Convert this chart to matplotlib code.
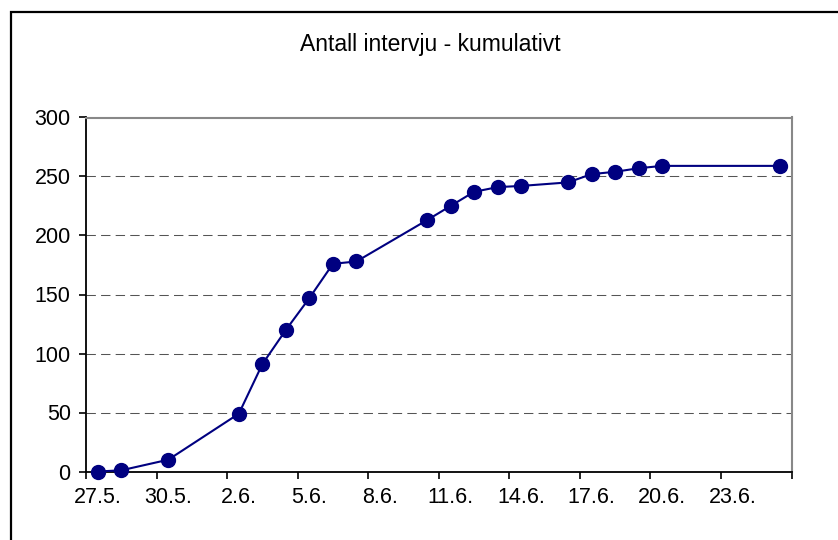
import matplotlib.pyplot as plt
from matplotlib.patches import Rectangle

# days counted from 27.5.
day_index = [0, 1, 3, 6, 7, 8, 9, 10, 11, 14, 15, 16, 17, 18, 20, 21, 22, 23, 24, 29]
cumulative = [0, 1, 10, 49, 91, 120, 147, 176, 178, 213, 225, 237, 241, 242, 245,
              252, 254, 257, 259, 259]
tick_labels = ["27.5.", "30.5.", "2.6.", "5.6.", "8.6.", "11.6.", "14.6.",
               "17.6.", "20.6.", "23.6."]
y_ticks = [0, 50, 100, 150, 200, 250, 300]

plt.rcParams['font.family'] = ['Liberation Sans', 'DejaVu Sans']

fig = plt.figure(figsize=(8.38, 5.40), dpi=100)
ax = fig.add_axes([86 / 838, 1 - 471.5 / 540, 705.5 / 838, 354 / 540])

# outer chart border (runs off the right and bottom edges)
fig.patches.append(Rectangle((10.5 / 838, -0.05), 1.0, 1 - 11.5 / 540 + 0.05,
                             transform=fig.transFigure, fill=False,
                             edgecolor='black', linewidth=1.6, clip_on=False))

x = [d + 0.5 for d in day_index]
ax.plot(x, cumulative, '-o', color='#000080', linewidth=1.5,
        markersize=10, zorder=3, clip_on=False)

ax.set_xlim(0, 30)
ax.set_ylim(0, 300)

ax.set_xticks(range(0, 31, 3))
ax.set_xticklabels([])
ax.set_xticks([i * 3 + 0.5 for i in range(len(tick_labels))], minor=True)
ax.set_xticklabels(tick_labels, minor=True)
ax.tick_params(axis='x', which='major', direction='out', length=5, width=1.2)
ax.tick_params(axis='x', which='minor', length=0, pad=11, labelsize=15.5)

ax.set_yticks(y_ticks)
ax.tick_params(axis='y', direction='out', length=5, width=1.2, labelsize=15.5, pad=6)

for yv in y_ticks[1:-1]:
    ax.axhline(yv, color='#555555', linewidth=0.75, linestyle=(0, (9, 5)), zorder=1)

ax.spines['left'].set_color('black')
ax.spines['bottom'].set_color('black')
ax.spines['left'].set_linewidth(1.3)
ax.spines['bottom'].set_linewidth(1.3)
ax.spines['top'].set_color('#888888')
ax.spines['right'].set_color('#888888')
ax.spines['top'].set_linewidth(1.5)
ax.spines['right'].set_linewidth(1.5)

fig.text(430 / 838, 1 - 45 / 540, "Antall intervju - kumulativt",
         ha='center', va='center', fontsize=16.5)

fig.savefig('out.png', dpi=100)
